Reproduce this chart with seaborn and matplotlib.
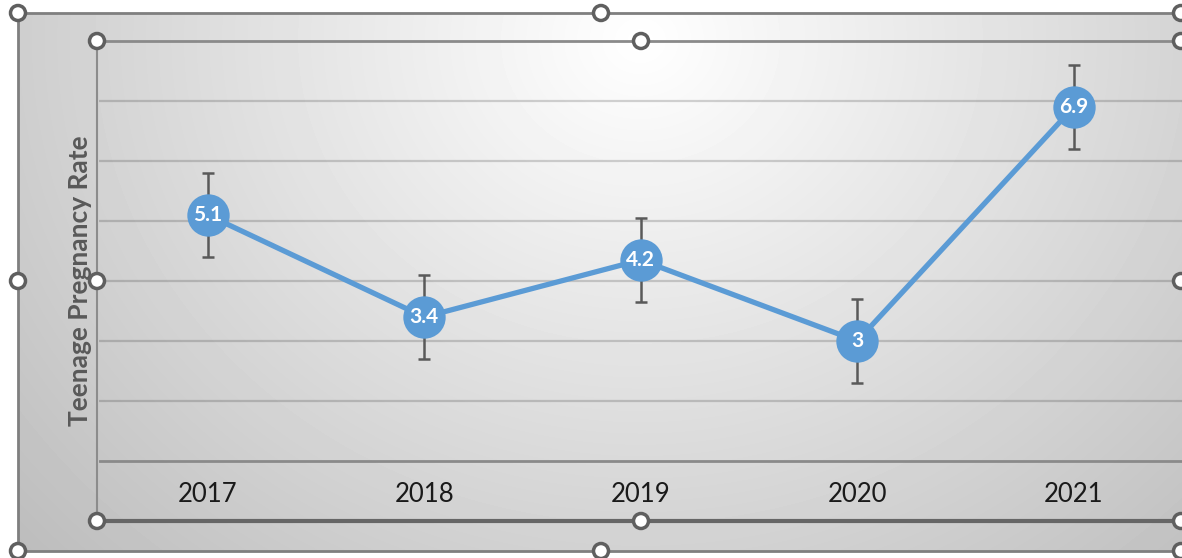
import numpy as np
import pandas as pd
import matplotlib
matplotlib.use("Agg")
import matplotlib.pyplot as plt
import seaborn as sns
from matplotlib.patches import Circle

# ---- data ----
years = ["2017", "2018", "2019", "2020", "2021"]
rates = [5.1, 3.4, 4.35, 3.0, 6.9]
rate_labels = ["5.1", "3.4", "4.2", "3", "6.9"]
errors = [0.7, 0.7, 0.7, 0.7, 0.7]
y_label = "Teenage Pregnancy Rate"

sns.set_theme(style="white")
plt.rcParams["font.family"] = ["Lato", "DejaVu Sans"]

W, H = 1182, 558
fig = plt.figure(figsize=(W / 100, H / 100), dpi=100)

# ---- background axes (pixel coordinates) ----
bg = fig.add_axes([0, 0, 1, 1], zorder=0)
bg.set_xlim(0, W)
bg.set_ylim(H, 0)
bg.axis("off")

yy, xx = np.mgrid[0:H, 0:W]
d = np.sqrt(((xx - 640) / 700.0) ** 2 + ((yy - 40) / 620.0) ** 2)
val = 255 - 55 * d
val = np.clip(val, 0, 255)
val[(xx < 18) | (yy < 13) | (yy > 551)] = 255
bg.imshow(val, cmap="gray", vmin=0, vmax=255, extent=(0, W, H, 0),
          interpolation="bilinear", aspect="auto", zorder=0)

# chart-area border
bg.plot([18, 18], [13, 551], color="#7f7f7f", lw=2.0, zorder=1)
bg.plot([18, W], [13, 13], color="#7f7f7f", lw=2.0, zorder=1)
bg.plot([18, W], [551, 551], color="#7f7f7f", lw=2.0, zorder=1)

# plot-area selection border
bg.plot([97, 97], [41, 521], color="#8c8c8c", lw=1.5, zorder=1)
bg.plot([97, W], [41, 41], color="#8a8a8a", lw=2.0, zorder=1)
bg.plot([97, W], [521, 521], color="#666666", lw=3.0, zorder=1)

# ---- main axes ----
left, right, top, bottom = 99.5, 1182, 41, 521
ax = fig.add_axes([left / W, (H - bottom) / H, (right - left) / W, (bottom - top) / H],
                  zorder=2)
ax.patch.set_alpha(0)
for s in ax.spines.values():
    s.set_visible(False)
ax.set_xlim(-0.5, len(years) - 0.5)
ax.set_ylim(0, 8)

for lvl in range(2, 8):
    ax.axhline(lvl, color="black", alpha=0.17, lw=1.6, zorder=1)
ax.axhline(1, color="#8a8a8a", lw=2.0, zorder=1)

df = pd.DataFrame({"pos": np.arange(len(years)), "rate": rates, "err": errors})

ax.errorbar(df["pos"], df["rate"], yerr=df["err"], fmt="none",
            ecolor="#595959", elinewidth=1.8, capsize=4.5, capthick=1.8, zorder=2)

sns.lineplot(data=df, x="pos", y="rate", ax=ax, color="#5B9BD5", linewidth=3.8,
             marker="o", markersize=30.5, markeredgewidth=0, zorder=3)

for p, r, lab in zip(df["pos"], df["rate"], rate_labels):
    ax.text(p, r, lab, ha="center", va="center", color="white",
            fontsize=15, fontweight="bold", zorder=5)

for p, y in zip(df["pos"], years):
    ax.text(p, 0.45, y, ha="center", va="center", color="#1a1a1a",
            fontsize=18.5, zorder=5)

ax.set_xticks([])
ax.set_yticks([])
ax.set_xlabel("")
ax.set_ylabel(y_label, fontsize=19, fontweight="bold", color="#595959")
ax.yaxis.set_label_coords((80 - left) / (right - left), 0.5)
ax.yaxis.label.set_va("center")

# ---- selection handles ----
handles = [(18, 13), (601, 13), (1181, 13), (18, 281), (18, 551), (601, 551), (1181, 551),
           (97, 41), (641, 41), (1181, 41), (97, 281), (1181, 281),
           (97, 521), (641, 521), (1181, 521)]
ov = fig.add_axes([0, 0, 1, 1], zorder=10)
ov.set_xlim(0, W)
ov.set_ylim(H, 0)
ov.axis("off")
ov.patch.set_alpha(0)
for hx, hy in handles:
    ov.add_patch(Circle((hx, hy), 7.5, facecolor="white", edgecolor="#5f5f5f",
                        lw=2.5, zorder=10, clip_on=False))

fig.savefig("out.png", dpi=100)
